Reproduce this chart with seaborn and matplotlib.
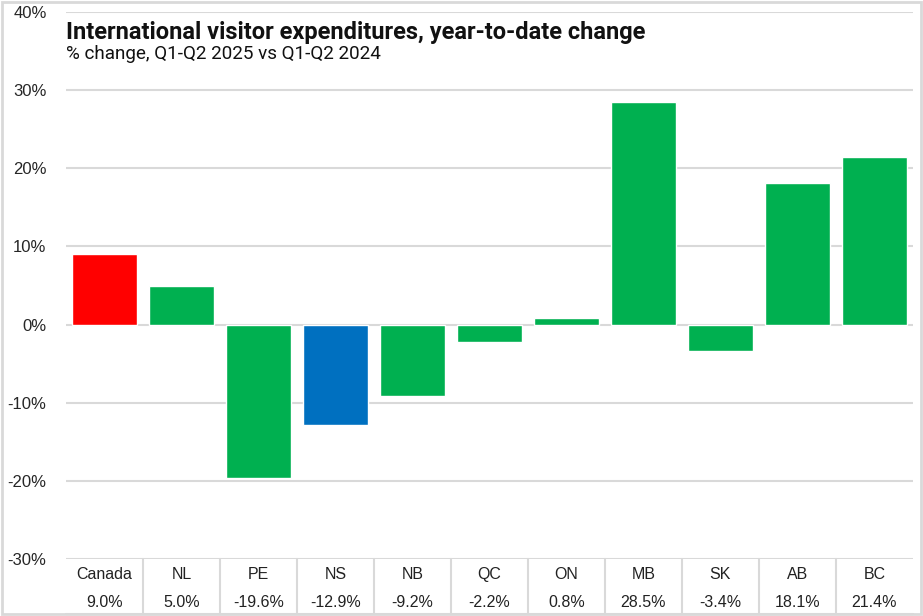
import pandas as pd
import seaborn as sns
import matplotlib.pyplot as plt
from matplotlib.patches import Rectangle

regions = ["Canada", "NL", "PE", "NS", "NB", "QC", "ON", "MB", "SK", "AB", "BC"]
change = [9.0, 5.0, -19.6, -12.9, -9.2, -2.2, 0.8, 28.5, -3.4, 18.1, 21.4]
group = ["Canada", "Other", "Other", "NS", "Other", "Other", "Other", "Other", "Other", "Other", "Other"]
palette = {"Canada": "#FF0000", "NS": "#0070C0", "Other": "#00B050"}

data = pd.DataFrame({"Region": regions, "Change": change, "Group": group})

sns.set_style("white")
plt.rcParams["font.family"] = ["Liberation Sans", "DejaVu Sans"]

fig = plt.figure(figsize=(9.23, 6.16), dpi=100)
ax = fig.add_axes([0.0715, 0.0925, 0.9175, 0.888])

sns.barplot(data=data, x="Region", y="Change", hue="Group", palette=palette,
            dodge=False, width=0.84, saturation=1, legend=False, ax=ax, zorder=3)

ax.set_ylim(-30, 40)
ax.set_xlim(-0.5, len(regions) - 0.5)
ax.set_yticks(range(-30, 41, 10))
ax.set_yticklabels([f"{t}%" for t in range(-30, 41, 10)], fontsize=12)
ax.tick_params(axis="y", length=0, pad=14)
ax.yaxis.grid(True, color="#D9D9D9", linewidth=1.5, zorder=0)
for s in ax.spines.values():
    s.set_visible(False)
ax.set_xticks([])
ax.set_xlabel("")
ax.set_ylabel("")

# data table under the axis
tr = ax.get_xaxis_transform()
for i, (r, v) in enumerate(zip(regions, change)):
    ax.text(i, -0.028, r, transform=tr, ha="center", va="center", fontsize=11.5, color="#222222")
    ax.text(i, -0.079, f"{v:.1f}%", transform=tr, ha="center", va="center", fontsize=11.5, color="#222222")
for i in range(1, len(regions)):
    ax.plot([i - 0.5, i - 0.5], [0, -0.1], transform=tr, color="#D9D9D9", lw=1.5, clip_on=False)
ax.plot([-0.5, len(regions) - 0.5], [-0.1, -0.1], transform=tr, color="#D9D9D9", lw=1.5, clip_on=False)

ax.text(0, 0.963, "International visitor expenditures, year-to-date change", transform=ax.transAxes,
        fontsize=17, fontweight="bold", family=["Roboto", "DejaVu Sans"], va="center", color="#111111")
ax.text(0, 0.923, "% change, Q1-Q2 2025 vs Q1-Q2 2024", transform=ax.transAxes,
        fontsize=13.6, family=["Roboto", "DejaVu Sans"], va="center", color="#111111")

fig.patches.append(Rectangle((0.002, 0.003), 0.996, 0.994, transform=fig.transFigure,
                             fill=False, edgecolor="#D9D9D9", lw=2))

fig.savefig("out.png", dpi=100)
